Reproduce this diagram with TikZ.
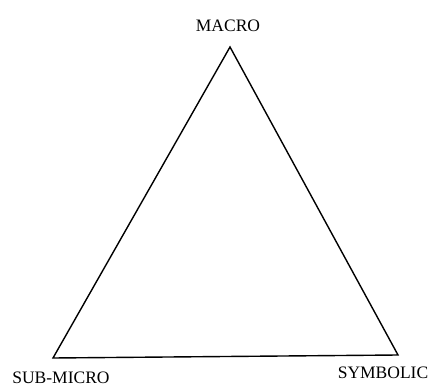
\documentclass[tikz,border=0pt]{standalone}
\usepackage{fontspec}
\setmainfont{Liberation Serif}
\begin{document}
\begin{tikzpicture}[x=1pt,y=-1pt,
  lab/.style={inner sep=0pt,font=\fontsize{17.5}{17.5}\selectfont},
  edge/.style={line width=1.4pt,line join=miter}]
\useasboundingbox (0,0) rectangle (431,387);
\coordinate (top) at (230,47);
\coordinate (bl) at (53,358);
\coordinate (br) at (398,355);
\draw[edge] (top) -- (bl) -- (br) -- cycle;
\node[lab] (macro) at (228,26) {MACRO};
\node[lab] (sub) at (61,378) {SUB-MICRO};
\node[lab] (sym) at (383,373) {SYMBOLIC};
\end{tikzpicture}
\end{document}
